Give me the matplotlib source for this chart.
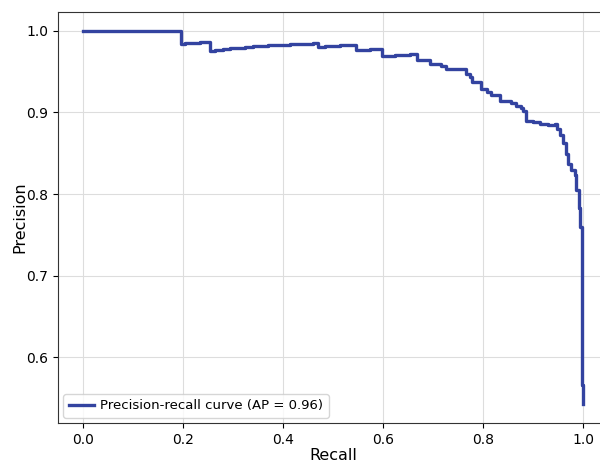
import matplotlib
matplotlib.use("Agg")
import matplotlib.pyplot as plt

# precision-recall points (ascending recall, steps-post)
recall = [0.0, 0.196, 0.205, 0.215, 0.225, 0.235, 0.245,
          0.255, 0.265, 0.28, 0.295, 0.31, 0.325, 0.34, 0.355, 0.37, 0.385,
          0.40, 0.415, 0.43, 0.445, 0.46,
          0.471, 0.485, 0.50, 0.515, 0.53,
          0.547, 0.56, 0.575, 0.587,
          0.599, 0.612, 0.625, 0.64, 0.655,
          0.669, 0.694, 0.717, 0.726, 0.745, 0.767, 0.774, 0.779, 0.796, 0.809,
          0.816, 0.834, 0.856, 0.866, 0.876, 0.880, 0.886, 0.90, 0.915, 0.93,
          0.944, 0.948, 0.954, 0.961, 0.967, 0.970, 0.977, 0.984, 0.987, 0.992,
          0.995, 0.998, 1.0]
precision = [1.0, 0.984, 0.9845, 0.985, 0.9855, 0.986, 0.9865,
             0.9755, 0.9765, 0.9775, 0.9785, 0.9793, 0.980, 0.9807, 0.9813, 0.9819, 0.9824,
             0.9829, 0.9834, 0.9838, 0.9842, 0.9848,
             0.9805, 0.981, 0.9815, 0.982, 0.9825,
             0.9765, 0.9768, 0.9772, 0.9775,
             0.9688, 0.9695, 0.9702, 0.9708, 0.9714,
             0.9635, 0.9595, 0.9565, 0.9525, 0.9535, 0.947, 0.943, 0.937, 0.929, 0.9245,
             0.921, 0.914, 0.911, 0.908, 0.905, 0.902, 0.890, 0.888, 0.886, 0.885,
             0.886, 0.880, 0.872, 0.863, 0.849, 0.837, 0.829, 0.823, 0.805, 0.783,
             0.760, 0.566, 0.5425]
ap = 0.96

line_color = "#3343a0"

fig = plt.figure(figsize=(6, 4.62), dpi=100)
ax = fig.add_axes([58/600, 1 - 423/462, 550/600, 411/462])

ax.plot(recall, precision, drawstyle="steps-post", color=line_color, linewidth=2.4,
        label=f"Precision-recall curve (AP = {ap:.2f})")

ax.set_xlabel("Recall", fontsize=11.5, labelpad=1)
ax.set_ylabel("Precision", fontsize=11.5, labelpad=-1)
ax.set_xticks([0.0, 0.2, 0.4, 0.6, 0.8, 1.0])
ax.set_yticks([0.6, 0.7, 0.8, 0.9, 1.0])
ax.tick_params(labelsize=10)
ax.grid(True, color="#dddddd", linewidth=0.8)
ax.set_axisbelow(True)
for spine in ax.spines.values():
    spine.set_color("#333333")

ax.legend(loc="lower left", fontsize=9.5, handlelength=1.9, handletextpad=0.5,
          borderaxespad=0.4)

fig.savefig("out.png", dpi=100)
